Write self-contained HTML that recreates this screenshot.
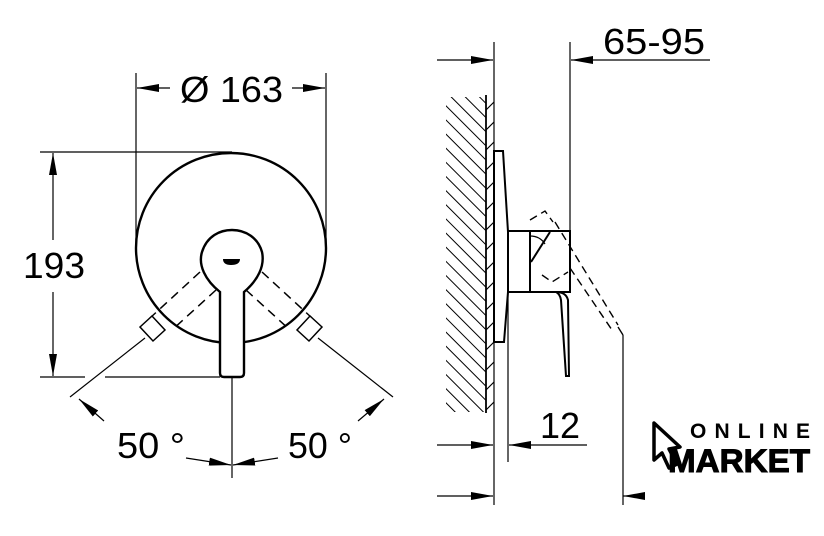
<!DOCTYPE html>
<html><head><meta charset="utf-8"><style>
html,body{margin:0;padding:0;background:#fff;}
svg{display:block}
text{font-family:"Liberation Sans",sans-serif;fill:#000}
</style></head><body>
<svg width="824" height="536" viewBox="0 0 824 536" xmlns="http://www.w3.org/2000/svg">
<defs>
<marker id="b" viewBox="0 0 22 8" refX="22" refY="4" markerWidth="22" markerHeight="8" markerUnits="userSpaceOnUse" orient="auto"><path d="M0,0 L22,4 L0,8z" fill="#000"/></marker>
<pattern id="h" width="10" height="10" patternUnits="userSpaceOnUse" patternTransform="rotate(-45)"><line x1="0" y1="0" x2="0" y2="10" stroke="#000" stroke-width="2"/></pattern>
</defs>
<g stroke="#000" fill="none" stroke-width="1.2">
<line x1="136" y1="73" x2="136" y2="250"/>
<line x1="326" y1="73" x2="326" y2="250"/>
<line x1="170" y1="88" x2="137" y2="88" marker-end="url(#b)"/>
<line x1="292" y1="88" x2="325" y2="88" marker-end="url(#b)"/>
<line x1="40" y1="152" x2="232" y2="152"/>
<line x1="40" y1="377" x2="85" y2="377"/>
<line x1="105" y1="377" x2="220" y2="377"/>
<line x1="53" y1="240" x2="53" y2="153" marker-end="url(#b)"/>
<line x1="53" y1="292" x2="53" y2="376" marker-end="url(#b)"/>
<line x1="145" y1="338" x2="70" y2="397"/>
<line x1="318" y1="338" x2="393" y2="397"/>
<line x1="104" y1="421" x2="79" y2="399" marker-end="url(#b)"/>
<line x1="358" y1="421" x2="384" y2="399" marker-end="url(#b)"/>
<line x1="232" y1="377" x2="232" y2="478"/>
<line x1="186" y1="458" x2="231" y2="465" marker-end="url(#b)"/>
<line x1="278" y1="458" x2="233" y2="465" marker-end="url(#b)"/>
</g>
<circle cx="231" cy="248" r="95" fill="#fff" stroke="#000" stroke-width="2.4"/>
<g stroke="#000" fill="none" stroke-width="1.5" stroke-dasharray="9,6">
<line x1="200" y1="272" x2="150" y2="318"/>
<line x1="216" y1="290" x2="172" y2="330"/>
<line x1="262" y1="272" x2="312" y2="318"/>
<line x1="246" y1="290" x2="290" y2="330"/>
</g>
<g stroke="#000" fill="#fff" stroke-width="1.5">
<path d="M140,327 L152,316 L165,330 L153,341 Z"/>
<path d="M322,327 L310,316 L297,330 L309,341 Z"/>
</g>
<path d="M220,292 C205,280 198,265 202,252 C207,236 220,230 232,230 C246,230 258,238 262,252 C265,266 258,280 244,292 L244,373 Q244,377 240,377 L224,377 Q220,377 220,373 Z" fill="#fff" stroke="#000" stroke-width="2.4"/>
<path d="M223,259 L240,259 Q240,265 231,265 Q223,265 223,259Z" fill="#000"/>
<text x="180" y="102" font-size="36" textLength="103" lengthAdjust="spacingAndGlyphs">Ø 163</text>
<text x="23" y="278" font-size="36" textLength="62" lengthAdjust="spacingAndGlyphs">193</text>
<text x="117" y="458" font-size="36" textLength="68" lengthAdjust="spacingAndGlyphs">50 °</text>
<text x="288" y="458" font-size="36" textLength="64" lengthAdjust="spacingAndGlyphs">50 °</text>

<rect x="446" y="97" width="40" height="315" fill="url(#h)"/>
<rect x="486" y="95" width="8" height="318" fill="#fff"/>
<g stroke="#000" fill="none" stroke-width="1.2">
<path d="M486,110 L494,102 M486,130 L494,122 M486,150 L494,142 M486,170 L494,162 M486,190 L494,182 M486,210 L494,202 M486,230 L494,222 M486,250 L494,242 M486,270 L494,262 M486,290 L494,282 M486,310 L494,302 M486,330 L494,322 M486,350 L494,342 M486,370 L494,362 M486,390 L494,382 M486,410 L494,402"/>
<line x1="486" y1="95" x2="486" y2="413" stroke-width="1.8"/>
<line x1="494" y1="42" x2="494" y2="505"/>
<line x1="570" y1="42" x2="570" y2="232"/>
<line x1="437" y1="60" x2="493" y2="60" marker-end="url(#b)"/>
<line x1="710" y1="60" x2="571" y2="60" marker-end="url(#b)"/>
<line x1="508" y1="290" x2="508" y2="462"/>
<line x1="437" y1="445" x2="493" y2="445" marker-end="url(#b)"/>
<line x1="587" y1="445" x2="509" y2="445" marker-end="url(#b)"/>
<line x1="437" y1="496" x2="493" y2="496" marker-end="url(#b)"/>
<line x1="645" y1="496" x2="623" y2="496" marker-end="url(#b)"/>
<line x1="623" y1="335" x2="623" y2="505"/>
</g>
<g stroke="#000" fill="#fff" stroke-width="2">
<path d="M494,151 L503,151 L508,232 L508,292 L504,342 L494,342 Z"/>
<rect x="508" y="231" width="22" height="61"/>
<rect x="530" y="231" width="40" height="61"/>
<path d="M531,262 L550,232" fill="none"/>
<path d="M530,236 Q540,236 545,244" fill="none" stroke-width="1.2"/>
<path d="M530,292 L556,292 Q566,292 568,300 L569,376 L566,376 L561,300 Q560,294 556,292" />
</g>
<g stroke="#000" fill="none" stroke-width="1.4" stroke-dasharray="8,5">
<path d="M530,220 L545,211 L553,222"/>
<path d="M542,275 L552,282 L568,272"/>
<line x1="555" y1="222" x2="618" y2="325"/>
<line x1="570" y1="268" x2="612" y2="330"/>
</g>
<line x1="618" y1="327" x2="623" y2="335" stroke="#000" stroke-width="1.4"/>
<text x="603" y="54" font-size="36" textLength="102" lengthAdjust="spacingAndGlyphs">65-95</text>
<text x="540" y="438" font-size="36" textLength="40" lengthAdjust="spacingAndGlyphs">12</text>

<path d="M654,423 L680,447 L669,449 L677,464 L669,468 L662,453 L654,460 Z" fill="#fff" stroke="#000" stroke-width="3.5" stroke-linejoin="round"/>
<text x="690" y="438" font-size="21" font-weight="bold" textLength="120" lengthAdjust="spacing">ONLINE</text>
<text x="668" y="472" font-size="32" font-weight="bold" stroke="#000" stroke-width="1" textLength="142" lengthAdjust="spacingAndGlyphs">MARKET</text>
</svg>
</body></html>
